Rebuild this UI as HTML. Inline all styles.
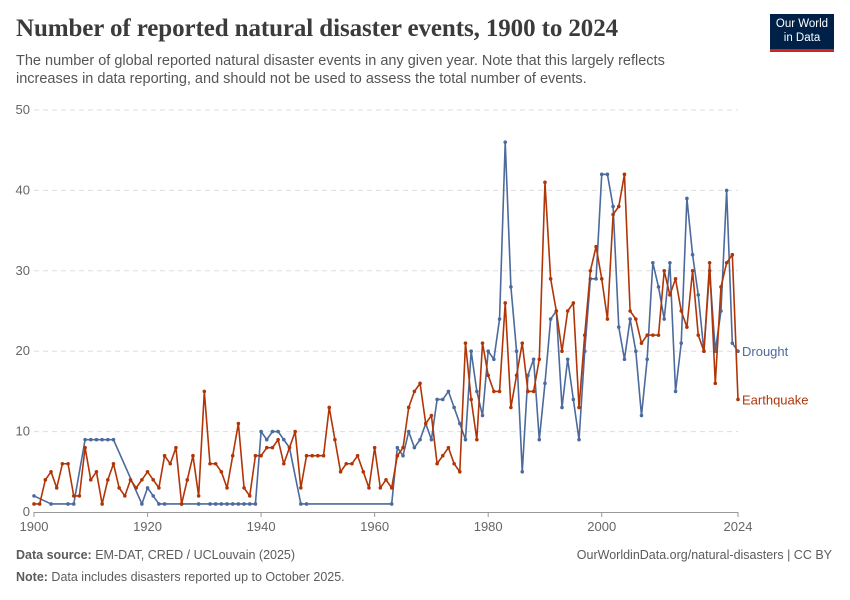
<!DOCTYPE html>
<html><head><meta charset="utf-8">
<style>
body{margin:0;background:#fff;font-family:"Liberation Sans",sans-serif;}
#wrap{position:relative;width:850px;height:600px;overflow:hidden;}
h1{position:absolute;left:16px;top:15px;margin:0;font-family:"Liberation Serif",serif;font-weight:bold;font-size:25px;color:#3b3b3b;letter-spacing:-0.1px}
.sub{position:absolute;left:16px;top:52px;width:700px;font-size:14.5px;line-height:18px;color:#555}
.logo{position:absolute;left:770px;top:14px;width:64px;height:38px;background:#002147;color:#fff;font-size:11.5px;line-height:14px;text-align:center;padding-top:3px;box-sizing:border-box;border-bottom:3px solid #ce261e}
.foot{position:absolute;font-size:12.5px;color:#5b5b5b}
</style></head><body>
<div id="wrap">
<h1>Number of reported natural disaster events, 1900 to 2024</h1>
<div class="sub">The number of global reported natural disaster events in any given year. Note that this largely reflects increases in data reporting, and should not be used to assess the total number of events.</div>
<div class="logo">Our World<br>in Data</div>
<svg id="chart" width="850" height="600" style="position:absolute;left:0;top:0"></svg>
<div class="foot" style="left:16px;top:548px"><b>Data source:</b> EM-DAT, CRED / UCLouvain (2025)</div>
<div class="foot" style="right:18px;top:548px">OurWorldinData.org/natural-disasters | CC BY</div>
<div class="foot" style="left:16px;top:570px"><b>Note:</b> Data includes disasters reported up to October 2025.</div>
</div>
<script>
const droughtYears=[1900,1903,1906,1907,1909,1910,1911,1912,1913,1914,1919,1920,1921,1922,1923,1926,1929,1931,1932,1933,1934,1935,1936,1937,1938,1939,1940,1941,1942,1943,1944,1945,1947,1948,1963,1964,1965,1966,1967,1968,1969,1970,1971,1972,1973,1974,1975,1976,1977,1978,1979,1980,1981,1982,1983,1984,1985,1986,1987,1988,1989,1990,1991,1992,1993,1994,1995,1996,1997,1998,1999,2000,2001,2002,2003,2004,2005,2006,2007,2008,2009,2010,2011,2012,2013,2014,2015,2016,2017,2018,2019,2020,2021,2022,2023,2024];
const droughtValues=[2,1,1,1,9,9,9,9,9,9,1,3,2,1,1,1,1,1,1,1,1,1,1,1,1,1,10,9,10,10,9,8,1,1,1,8,7,10,8,9,11,9,14,14,15,13,11,9,20,15,12,20,19,24,46,28,20,5,17,19,9,16,24,25,13,19,14,9,20,29,29,42,42,38,23,19,24,20,12,19,31,28,24,31,15,21,39,32,27,20,30,20,25,40,21,20];
const quakeStart=1900;
const quakeValues=[1,1,4,5,3,6,6,2,2,8,4,5,1,4,6,3,2,4,3,4,5,4,3,7,6,8,1,4,7,2,15,6,6,5,3,7,11,3,2,7,7,8,8,9,6,8,10,3,7,7,7,7,13,9,5,6,6,7,5,3,8,3,4,3,7,8,13,15,16,11,12,6,7,8,6,5,21,14,9,21,17,15,15,26,13,17,21,15,15,19,41,29,25,20,25,26,13,22,30,33,29,24,37,38,42,25,24,21,22,22,22,30,27,29,25,23,30,22,20,31,16,28,31,32,14];
const yTicks=[0,10,20,30,40,50];
const xTicks=[1900,1920,1940,1960,1980,2000,2024];
const NS="http://www.w3.org/2000/svg";
const svg=document.getElementById('chart');
const X=y=>34+(y-1900)*(738-34)/124;
const Y=v=>512-v*(512-110)/50;
function mk(t,a){const e=document.createElementNS(NS,t);for(const k in a)e.setAttribute(k,a[k]);svg.appendChild(e);return e;}
yTicks.forEach(t=>{
 if(t>0){const l=mk('line',{x1:34,x2:738,y1:Y(t),y2:Y(t),stroke:'#ddd','stroke-dasharray':'5,4'});
 
 }
 const tx=mk('text',{x:30,y:Y(t)+4,'text-anchor':'end','font-size':13,fill:'#666','font-family':'Liberation Sans'});tx.textContent=t;
 
 
});
const ax=mk('line',{x1:34,x2:738,y1:512.5,y2:512.5,stroke:'#999'});


xTicks.forEach(t=>{
 mk('line',{x1:X(t),x2:X(t),y1:512,y2:517,stroke:'#999'});
 const tx=mk('text',{x:X(t),y:531,'text-anchor':'middle','font-size':13,fill:'#666','font-family':'Liberation Sans'});tx.textContent=t;
 
 
});
function series(xs,vs,color,name){
 const p=mk('polyline',{points:xs.map((x,i)=>X(x)+','+Y(vs[i])).join(' '),fill:'none',stroke:color,'stroke-width':1.6,'stroke-linejoin':'round'});
 
 
 xs.forEach((x,i)=>{const c=mk('circle',{cx:X(x),cy:Y(vs[i]),r:1.8,fill:color});
 
 });
}
series(droughtYears,droughtValues,'#4c6a9c','drought');
series(quakeValues.map((v,i)=>quakeStart+i),quakeValues,'#b13507','earthquake');
const l1=mk('text',{x:742,y:Y(droughtValues[droughtValues.length-1])+5,'font-size':13,fill:'#4c6a9c','font-family':'Liberation Sans'});l1.textContent='Drought';


const l2=mk('text',{x:742,y:Y(quakeValues[quakeValues.length-1])+5,'font-size':13,fill:'#b13507','font-family':'Liberation Sans'});l2.textContent='Earthquake';


</script>
</body></html>
